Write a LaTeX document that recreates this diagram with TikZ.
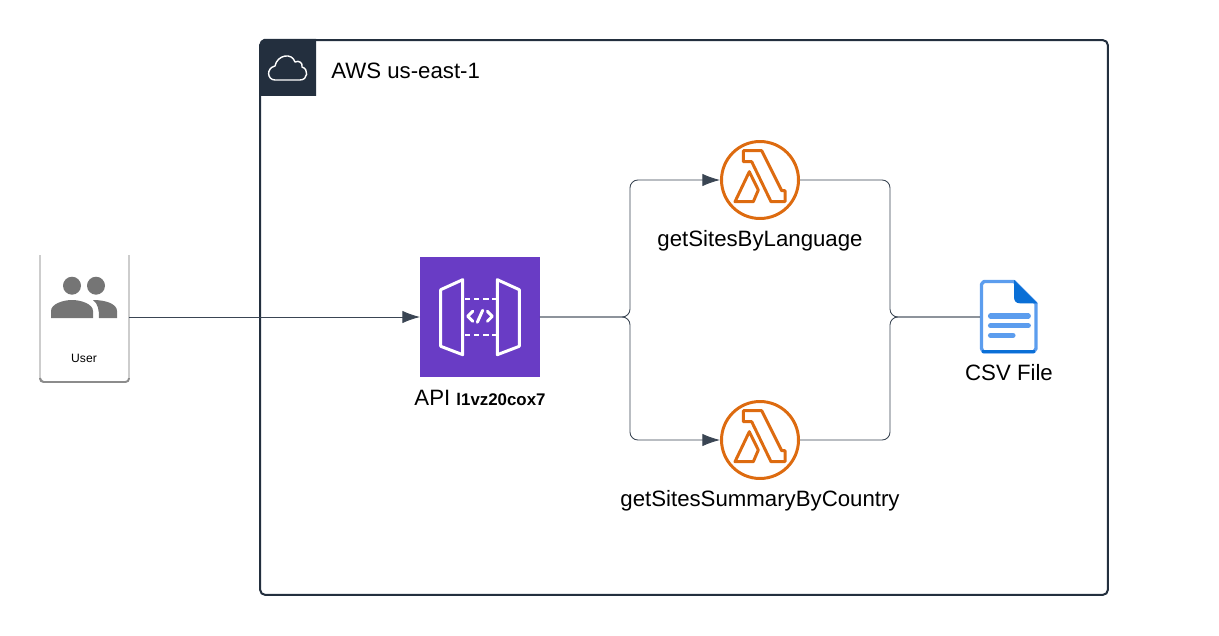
\documentclass[tikz,border=0pt]{standalone}
\usepackage{fontspec}
\setmainfont{Liberation Sans}
\usetikzlibrary{arrows.meta,positioning}
\definecolor{awsnavy}{HTML}{232F3E}
\definecolor{connline}{HTML}{3A4553}
\definecolor{apipurple}{HTML}{693CC5}
\definecolor{lamorange}{HTML}{DD6B10}
\definecolor{docblue}{HTML}{5C9DEE}
\definecolor{docdark}{HTML}{0A6FD6}
\definecolor{usergrey}{HTML}{757575}
\tikzset{
  groupbox/.style={draw=awsnavy,line width=1.15pt,rounded corners=3pt,minimum width=16.96cm,minimum height=11.1cm,inner sep=0pt,outer sep=0pt},
  headbox/.style={minimum size=1.12cm,inner sep=0pt,outer sep=0pt},
  apibox/.style={fill=apipurple,minimum size=2.4cm,inner sep=0pt,outer sep=0pt},
  lambdanode/.style={circle,draw=lamorange,line width=1.7pt,minimum size=1.54cm,inner sep=0pt,outer sep=0.85pt},
  docnode/.style={minimum width=1.145cm,minimum height=1.46cm,inner sep=0pt,outer sep=0pt},
  usernode/.style={minimum width=1.78cm,minimum height=2.54cm,inner sep=0pt,outer sep=0pt},
  conn/.style={draw=connline,line width=0.5pt,rounded corners=4.5pt},
  tip/.style={-{Latex[length=10pt,width=7pt]}},
  biglabel/.style={font=\fontsize{12.65}{14}\selectfont,text=black,inner sep=0pt},
  whiteline/.style={draw=white,line width=1.7pt,line join=round,line cap=round}
}

\begin{document}
\begin{tikzpicture}[x=0.02cm,y=-0.02cm]
  \useasboundingbox (0,0) rectangle (1219,635);

  % region
  \node[groupbox] (aws) at (684,317.5) {};
  \node[headbox] (head) at (288,68) {};
  \fill[awsnavy] (259,45) to[out=-90,in=180] (264,39) -- (316,39) -- (316,96) -- (259,96) -- cycle;
  \draw[white,line width=0.8pt,line join=round] (275,80) .. controls (267,80) and (266,68) .. (275,66)
    .. controls (277,55) and (292,52) .. (295,62)
    .. controls (299,60) and (303,63) .. (302,67)
    .. controls (309,69) and (308,80) .. (300,80) -- cycle;
  \node[biglabel,anchor=west] (awslabel) at (331,71) {AWS us-east-1};

  % user card
  \node[usernode] (user) at (84.5,318.5) {};
  \draw[black!30,line width=0.6pt] (user.north west) -- (40,378) to[out=90,in=180] (43,381);
  \draw[black!30,line width=0.6pt] (user.north east) -- (129,378);
  \draw[black!45,line width=1.1pt,rounded corners=2pt] (40,378) -- (40,382) -- (129,382) -- (129,378);
  \fill[usergrey] (72,285.7) circle[radius=9] (96,285.7) circle[radius=9];
  \fill[usergrey] (51,318) -- (51,311) .. controls (51,304) and (63,300) .. (72,300)
    .. controls (81,300) and (93,304) .. (93,311) -- (93,318) -- cycle;
  \fill[usergrey] (93,300) .. controls (106,300) and (117,304) .. (117,311) -- (117,318) -- (99,318)
    .. controls (99,309) and (98,304) .. cycle;
  \node[font=\fontsize{6.9}{8}\selectfont,inner sep=0pt] (userlabel) at (84,358) {User};

  % api
  \node[apibox] (api) at (480,317) {};
  \begin{scope}[shift={(api.center)}]
    \draw[whiteline] (-39.3,-27.3) -- (-17.3,-37.3) -- (-17.3,37.7) -- (-39.3,29.3) -- cycle;
    \draw[whiteline] (39.3,-27.3) -- (17.3,-37.3) -- (17.3,37.7) -- (39.3,29.3) -- cycle;
    \draw[white,line width=1.7pt,dash pattern=on 3pt off 2.2pt] (-15,-18) -- (17,-18);
    \draw[white,line width=1.7pt,dash pattern=on 3pt off 2.2pt] (-15,18) -- (17,18);
    \draw[whiteline] (-7.3,-5.7) -- (-12.3,-0.7) -- (-7.3,4.3);
    \draw[whiteline] (7.3,-5.7) -- (12.3,-0.7) -- (7.3,4.3);
    \draw[whiteline] (-2.7,5.3) -- (2.7,-6.7);
  \end{scope}
  \node[biglabel] (apilabel) at (480,398) {API {\fontsize{9.6}{11}\selectfont\bfseries l1vz20cox7}};

  % functions
  \node[lambdanode] (lamone) at (760,180) {};
  \node[lambdanode] (lamtwo) at (760,440) {};
  \foreach \fn in {lamone,lamtwo} {
    \begin{scope}[shift={(\fn.center)}]
      \draw[lamorange,line width=1.7pt,line join=round] (-16.7,-29.3) -- (1.7,-29.3) -- (21.7,10.7) -- (25,10.7)
        -- (25,21.7) -- (11,21.7) -- (-8.3,-18.3) -- (-16.7,-18.3) -- cycle;
      \draw[lamorange,line width=1.7pt,line join=round] (-10.7,-8.3) -- (-1.7,10) -- (-6.7,21.7) -- (-25,21.7) -- cycle;
    \end{scope}
  }
  \node[biglabel] (lamonelabel) at (760,241) {getSitesByLanguage};
  \node[biglabel] (lamtwolabel) at (760,501) {getSitesSummaryByCountry};

  % csv file
  \node[docnode] (csv) at (1008.5,317) {};
  \draw[docblue,fill=white,line width=1.9pt,line join=round] (981.5,284) to[out=-90,in=180] (984,281.5) -- (1014,281.5) -- (1036,303.5) -- (1036,349) to[out=90,in=0] (1033,352) -- (984,352) to[out=180,in=90] (981.5,349) -- cycle;
  \draw[docdark,line width=1.9pt] (982,351.8) -- (1035,351.8);
  \fill[docdark] (1014,280) -- (1037.3,303.3) -- (1020,303.3) .. controls (1016,303.3) and (1014,301) .. (1014,297) -- cycle;
  \foreach \liney/\lineend in {316/1028.3,325.7/1028.3,335.3/1013} {
    \draw[docblue,line width=2.9pt,line cap=round] (990.5,\liney) -- (\lineend,\liney);
  }
  \node[biglabel] (csvlabel) at (1009,373) {CSV File};

  % connectors
  \coordinate (split) at (630,317);
  \coordinate (merge) at (890,317);
  \draw[conn,tip] (user.east |- api.west) -- (api.west);
  \draw[conn,tip] (api.east) -- (split) |- (lamone.west);
  \draw[conn,tip] (api.east) -- (split) |- (lamtwo.west);
  \draw[conn] (lamone.east) -| (merge) -- (csv.west);
  \draw[conn] (lamtwo.east) -| (merge) -- (csv.west);
\end{tikzpicture}
\end{document}
